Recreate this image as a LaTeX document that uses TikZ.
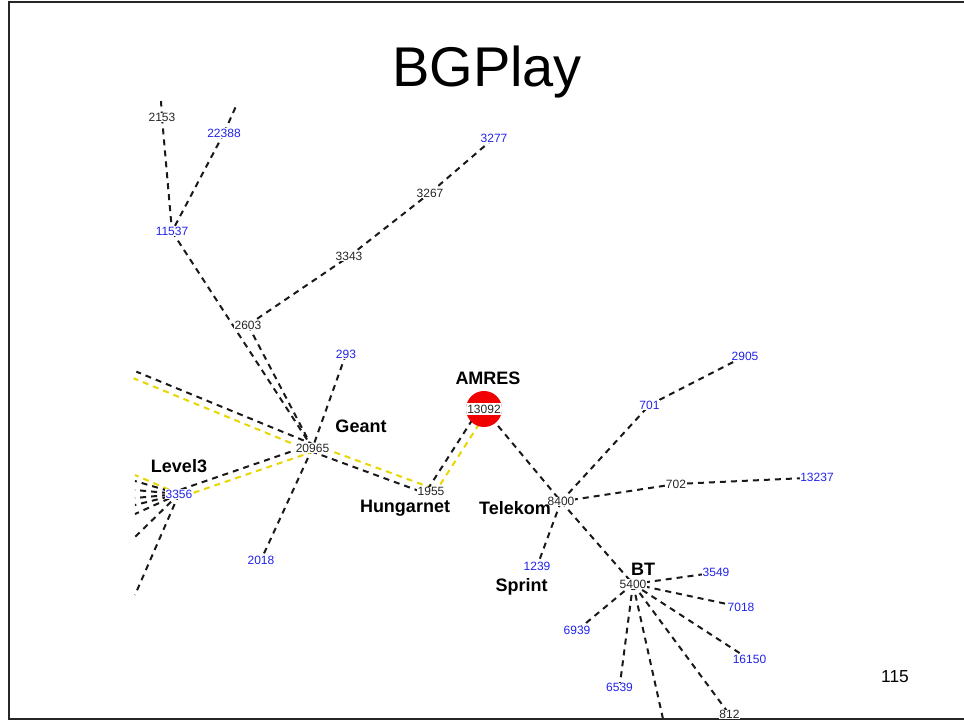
\documentclass[tikz,border=0pt]{standalone}
\usepackage{fontspec}
\setmainfont{Liberation Sans}
\usetikzlibrary{calc,backgrounds}
\definecolor{labblue}{RGB}{35,35,235}
\definecolor{aryellow}{RGB}{232,214,0}
\definecolor{amresred}{RGB}{240,0,0}
\tikzset{
  lab/.style={font=\fontsize{9}{10}\selectfont, fill=white, inner sep=0.5pt},
  blab/.style={lab, text=labblue},
  klab/.style={lab, text=black!85},
  asname/.style={font=\bfseries\fontsize{13.5}{15}\selectfont, inner sep=0pt},
  conn/.style={draw=black!90, line width=1.5pt, dash pattern=on 4.5pt off 3.75pt},
  yconn/.style={conn, draw=aryellow},
  frameline/.style={draw=black!85, line width=2pt},
}
\begin{document}
\begin{tikzpicture}[x=0.75pt, y=-0.75pt]
\useasboundingbox (0,0) rectangle (964,723);
% frame
\draw[frameline] (964,2) -- (9,2) -- (9,719) -- (964,719);
% title and page number
\node[font=\fontsize{42}{46}\selectfont, anchor=base, inner sep=0pt] (title) at (487,87) {BGPlay};
\node[font=\fontsize{13}{15}\selectfont, anchor=base, inner sep=0pt] (pageno) at (895,682) {115};

% AS nodes
\node[klab] (n2153) at (162,117.5) {2153};
\node[blab] (n22388) at (224,133) {22388};
\node[blab] (n11537) at (172,231.5) {11537};
\node[klab] (n2603) at (248,325) {2603};
\node[klab] (n3343) at (349,256.5) {3343};
\node[klab] (n3267) at (430,193) {3267};
\node[blab] (n3277) at (494,138) {3277};
\node[blab] (n293) at (346,354) {293};
\node[klab] (n20965) at (312.5,448) {20965};
\node[blab] (n2018) at (261,560) {2018};
\node[blab] (n3356) at (179,494) {3356};
\node[klab] (n1955) at (431,491.5) {1955};
\node[circle, fill=amresred, minimum size=27pt, inner sep=0pt,
      font=\fontsize{9}{10}\selectfont, text=black!85,
      path picture={\fill[white] ([yshift=-4.6pt]path picture bounding box.west) rectangle ([yshift=4.6pt]path picture bounding box.east);}]
      (n13092) at (484,409) {13092};
\node[klab] (n8400) at (561,501.5) {8400};
\node[blab] (n701) at (649.5,405) {701};
\node[blab] (n2905) at (745,356) {2905};
\node[klab] (n702) at (676,484) {702};
\node[blab] (n13237) at (817,477.5) {13237};
\node[blab] (n1239) at (537,566.5) {1239};
\node[klab] (n5400) at (633,584) {5400};
\node[blab] (n3549) at (716,572.5) {3549};
\node[blab] (n7018) at (741,607) {7018};
\node[blab] (n16150) at (749.5,659.5) {16150};
\node[blab] (n6939) at (577,630.5) {6939};
\node[blab] (n6539) at (619.5,687.5) {6539};
\node[klab] (n812) at (729.5,714.5) {812};

% network names
\node[asname] (geant) at (361,426) {Geant};
\node[asname] (level3) at (179,466) {Level3};
\node[asname] (hungarnet) at (405,508.5) {Hungarnet};
\node[asname] (amres) at (488,378) {AMRES};
\node[asname] (telekom) at (515,508) {Telekom};
\node[asname] (sprint) at (521.5,587) {Sprint};
\node[asname] (bt) at (643,569) {BT};

% free ends (edges leaving the visible area)
\coordinate (t2153) at (161,101);
\coordinate (t22388) at (237,104);
\coordinate (lg) at (135,375);
\coordinate (l1) at (135,475);
\coordinate (l2) at (135,481);
\coordinate (l3) at (135,490);
\coordinate (l4) at (135,498);
\coordinate (l5) at (135,505);
\coordinate (l6) at (135,514);
\coordinate (l7) at (135,537);
\coordinate (l8) at (135,595);
\coordinate (b5400) at (663,719);

\begin{pgfonlayer}{background}
\draw[conn] (n2153.center) -- (t2153);
\draw[conn] (n2153.center) -- (n11537.center);
\draw[conn] (n22388.center) -- (t22388);
\draw[conn] (n22388.center) -- (n11537.center);
\draw[conn] (n11537.center) -- (n20965.center);
\draw[conn] (n2603.center) -- (n20965.center);
\draw[conn] (n2603.center) -- (n3343.center);
\draw[conn] (n3343.center) -- (n3267.center);
\draw[conn] (n3267.center) -- (n3277.center);
\draw[conn] (n293.center) -- (n20965.center);
\draw[conn] (n20965.center) -- (n2018.center);
% Geant to the left, black and yellow
\draw[conn] ($(n20965.center)!2.7pt!-90:(lg)$) -- ($(lg)!2.7pt!90:(n20965.center)$);
\draw[yconn] ($(n20965.center)!2.7pt!90:(lg)$) -- ($(lg)!2.7pt!-90:(n20965.center)$);
% Geant - Level3
\draw[conn] ($(n20965.center)!2.7pt!-90:(n3356.center)$) -- ($(n3356.center)!2.7pt!90:(n20965.center)$);
\draw[yconn] ($(n20965.center)!2.7pt!90:(n3356.center)$) -- ($(n3356.center)!2.7pt!-90:(n20965.center)$);
% Geant - Hungarnet
\draw[yconn] ($(n20965.center)!2.7pt!90:(n1955.center)$) -- ($(n1955.center)!2.7pt!-90:(n20965.center)$);
\draw[conn] ($(n20965.center)!2.7pt!-90:(n1955.center)$) -- ($(n1955.center)!2.7pt!90:(n20965.center)$);
% Hungarnet - AMRES
\draw[conn] ($(n1955.center)!3pt!90:(n13092.center)$) -- ($(n13092.center)!3pt!-90:(n1955.center)$);
\draw[yconn] ($(n1955.center)!3pt!-90:(n13092.center)$) -- ($(n13092.center)!3pt!90:(n1955.center)$);
% Level3 to the left
\draw[yconn] (n3356.center) -- (l1);
\foreach \c in {l2,l3,l4,l5,l6,l7,l8} \draw[conn] (n3356.center) -- (\c);
% AMRES - Telekom and beyond
\draw[conn] (n13092.center) -- (n8400.center);
\draw[conn] (n8400.center) -- (n701.center);
\draw[conn] (n701.center) -- (n2905.center);
\draw[conn] (n8400.center) -- (n702.center);
\draw[conn] (n702.center) -- (n13237.center);
\draw[conn] (n8400.center) -- (n1239.center);
\draw[conn] (n8400.center) -- (n5400.center);
\foreach \c in {n3549,n7018,n16150,n6939,n6539,n812} \draw[conn] (n5400.center) -- (\c.center);
\draw[conn] (n5400.center) -- (b5400);
\end{pgfonlayer}
\end{tikzpicture}
\end{document}
